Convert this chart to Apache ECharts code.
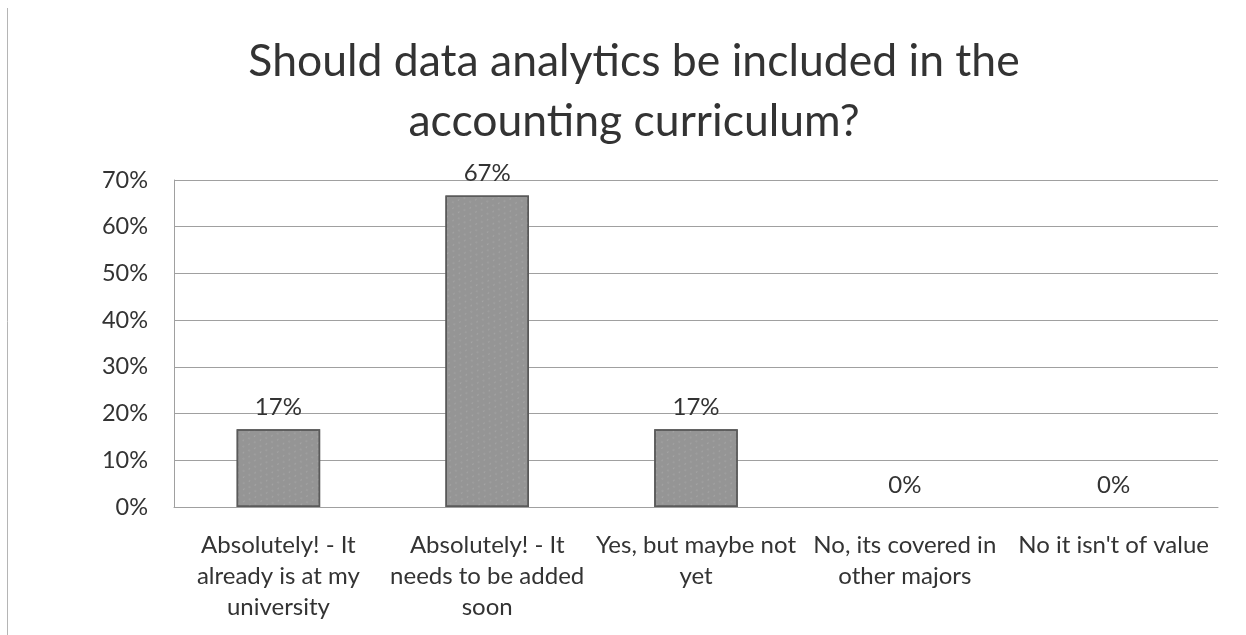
<!DOCTYPE html>
<html>
<head>
<meta charset="utf-8">
<script src="https://cdn.jsdelivr.net/npm/echarts@6/dist/echarts.min.js"></script>
<style>
  html, body { margin: 0; padding: 0; background: #fff; }
  #chart { width: 1246px; height: 635px; }
</style>
</head>
<body>
<div id="chart"></div>
<script>
// Survey answers and the share of respondents choosing each
const categories = [
  'Absolutely! - It\nalready is at my\nuniversity',
  'Absolutely! - It\nneeds to be added\nsoon',
  'Yes, but maybe not\nyet',
  'No, its covered in\nother majors',
  "No it isn't of value"
];
const shares = [16.67, 66.67, 16.67, 0, 0];
const shareLabels = ['17%', '67%', '17%', '0%', '0%'];
const titleText = 'Should data analytics be included in the\naccounting curriculum?';

const FONT = 'Lato, "Open Sans", sans-serif';
const chart = echarts.init(document.getElementById('chart'), null, { renderer: 'canvas' });

// zero-height bars get no outline, so only their labels show
const barData = shares.map(v => (v === 0 ? { value: v, itemStyle: { borderWidth: 0 } } : v));

chart.setOption({
  backgroundColor: '#fff',
  animation: false,
  title: {
    text: titleText,
    left: 629,
    textAlign: 'center',
    top: 27,
    textStyle: { fontFamily: FONT, fontSize: 44.5, fontWeight: 'normal', color: '#333', lineHeight: 60 }
  },
  grid: { left: 174, right: 28, top: 180, bottom: 128, containLabel: false },
  xAxis: {
    type: 'category',
    data: categories,
    axisTick: { show: false },
    axisLine: { lineStyle: { color: '#a0a0a0', width: 1 } },
    axisLabel: {
      fontFamily: FONT, fontSize: 24, color: '#333', lineHeight: 31, margin: 23, interval: 0
    }
  },
  yAxis: {
    type: 'value',
    min: 0, max: 70, interval: 10,
    axisLine: { show: true, lineStyle: { color: '#a0a0a0' } },
    axisTick: { show: false },
    splitLine: { lineStyle: { color: '#a0a0a0', width: 1 } },
    axisLabel: { fontFamily: FONT, fontSize: 23.5, color: '#333', margin: 26, formatter: v => v + '%' }
  },
  series: [{
    type: 'bar',
    data: barData,
    barWidth: '40%',
    itemStyle: {
      color: '#959595',
      borderColor: '#5a5a5a',
      borderWidth: 1.5,
      decal: {
        symbol: 'circle',
        symbolSize: 0.6,
        color: 'rgba(225,225,225,0.45)',
        dashArrayX: [[3, 4], [0, 3, 4, 0]],
        dashArrayY: [2, 3],
        rotation: 0.6
      }
    },
    label: {
      show: true, position: 'top', distance: 10,
      fontFamily: FONT, fontSize: 24, color: '#333',
      formatter: p => shareLabels[p.dataIndex]
    }
  }],
  graphic: [{
    type: 'line', shape: { x1: 7.5, y1: 8, x2: 7.5, y2: 635 },
    style: { stroke: '#b5b5b5', lineWidth: 1 }
  }]
});
</script>
</body>
</html>
